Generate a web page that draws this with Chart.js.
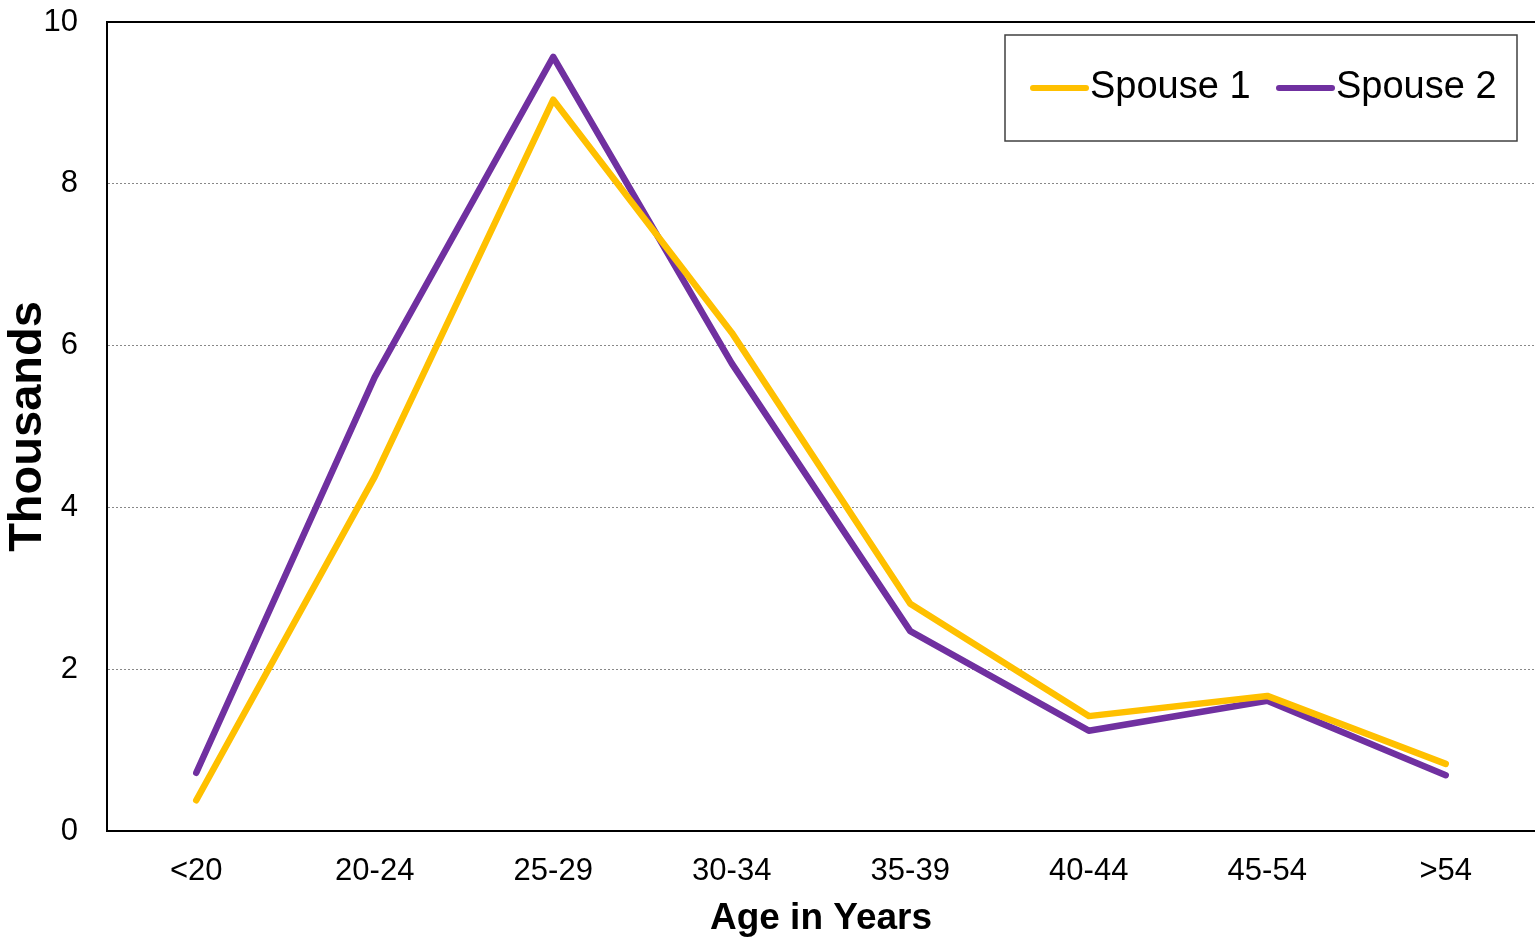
<!DOCTYPE html>
<html>
<head>
<meta charset="utf-8">
<script src="https://cdn.jsdelivr.net/npm/chart.js@4.4.1/dist/chart.umd.min.js"></script>
<style>
  html, body { margin: 0; padding: 0; background: #fff; }
  canvas { display: block; }
</style>
</head>
<body>
<canvas id="myCanvas" width="1535" height="938"></canvas>
<script>
var ageGroups = ['<20', '20-24', '25-29', '30-34', '35-39', '40-44', '45-54', '>54'];
var spouse1 = [0.38, 4.38, 9.04, 6.16, 2.81, 1.42, 1.67, 0.83];
var spouse2 = [0.72, 5.61, 9.57, 5.78, 2.47, 1.24, 1.61, 0.69];
var yTicks = [0, 2, 4, 6, 8, 10];

var font = "'Liberation Sans', Arial, sans-serif";

// top border of the plot + boxed legend inside the plot
var frameAndLegend = {
    id: 'frameAndLegend',
    afterDraw: function (chart) {
        var ctx = chart.ctx;
        var area = chart.chartArea;
        ctx.save();
        ctx.strokeStyle = '#000';
        ctx.lineWidth = 2;
        ctx.beginPath();
        ctx.moveTo(area.left, area.top);
        ctx.lineTo(area.right, area.top);
        ctx.stroke();

        // legend box
        var bx = 1005, by = 35, bw = 512, bh = 106;
        ctx.fillStyle = '#fff';
        ctx.fillRect(bx, by, bw, bh);
        ctx.strokeStyle = '#404040';
        ctx.lineWidth = 1.5;
        ctx.strokeRect(bx, by, bw, bh);

        var xs = [1033, 1279];
        var cy = by + bh / 2;
        ctx.font = '38px ' + font;
        ctx.textBaseline = 'middle';
        ctx.textAlign = 'left';
        chart.data.datasets.forEach(function (ds, i) {
            ctx.strokeStyle = ds.borderColor;
            ctx.lineWidth = 6;
            ctx.lineCap = 'round';
            ctx.beginPath();
            ctx.moveTo(xs[i], cy);
            ctx.lineTo(xs[i] + 53, cy);
            ctx.stroke();
            ctx.fillStyle = '#000';
            ctx.fillText(ds.label, xs[i] + 57, cy);
        });
        ctx.restore();
    }
};

var ctx = document.getElementById('myCanvas');
var chart = new Chart(ctx, {
    type: 'line',
    data: {
        labels: ageGroups,
        datasets: [
            {
                label: 'Spouse 1',
                data: spouse1,
                borderColor: '#FFC000',
                backgroundColor: '#FFC000',
                borderWidth: 6.5,
                pointRadius: 0,
                tension: 0,
                borderCapStyle: 'round',
                borderJoinStyle: 'round'
            },
            {
                label: 'Spouse 2',
                data: spouse2,
                borderColor: '#7030A0',
                backgroundColor: '#7030A0',
                borderWidth: 6.5,
                pointRadius: 0,
                tension: 0,
                borderCapStyle: 'round',
                borderJoinStyle: 'round'
            }
        ]
    },
    options: {
        responsive: false,
        animation: false,
        layout: { padding: { top: 22, right: 0, left: 0, bottom: 0 } },
        plugins: {
            legend: { display: false },
            tooltip: { enabled: false }
        },
        scales: {
            x: {
                offset: true,
                grid: { display: false, drawTicks: false },
                border: { display: true, color: '#000', width: 2 },
                ticks: {
                    color: '#000',
                    font: { family: font, size: 31 },
                    padding: 22,
                    maxRotation: 0
                },
                title: {
                    display: true,
                    text: 'Age in Years',
                    color: '#000',
                    font: { family: font, size: 37, weight: 'bold', lineHeight: 1.05 },
                    padding: { top: 0, bottom: 0 }
                },
                afterFit: function (scale) {
                    scale.height = 107;
                    scale.paddingLeft = 0;
                    scale.paddingRight = 0;
                }
            },
            y: {
                min: 0,
                max: 10,
                afterBuildTicks: function (scale) {
                    scale.ticks = yTicks.map(function (v) { return { value: v }; });
                },
                grid: {
                    drawTicks: false,
                    color: function (c) { return c.tick.value === 0 || c.tick.value === 10 ? 'rgba(0,0,0,0)' : '#888'; },
                    lineWidth: 1
                },
                border: { display: true, color: '#000', width: 2, dash: [2, 2] },
                ticks: {
                    color: '#000',
                    font: { family: font, size: 31 },
                    padding: 29
                },
                title: {
                    display: true,
                    text: 'Thousands',
                    color: '#000',
                    font: { family: font, size: 47, weight: 'bold' },
                    padding: { top: 0, bottom: 0 }
                },
                afterFit: function (scale) {
                    scale.width = 107;
                    scale.paddingTop = 0;
                    scale.paddingBottom = 0;
                }
            }
        }
    },
    plugins: [frameAndLegend]
});
</script>
</body>
</html>
